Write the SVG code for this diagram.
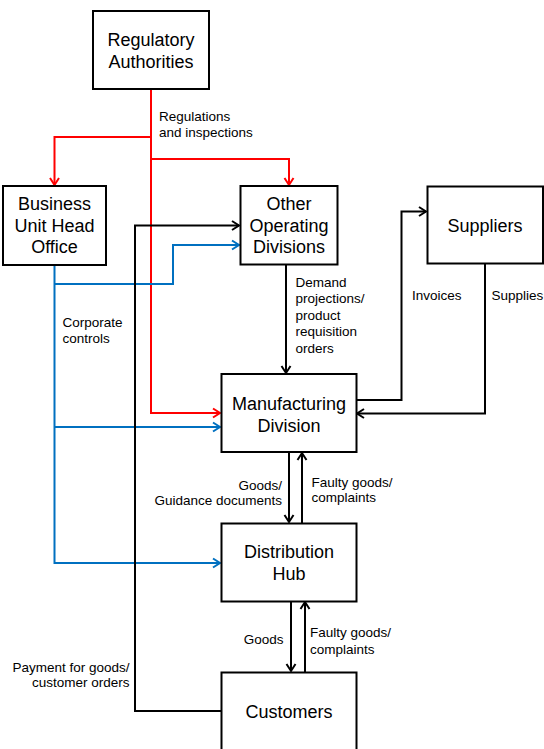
<svg xmlns="http://www.w3.org/2000/svg" width="544" height="749" viewBox="0 0 544 749">
<style>
.box{fill:#fff;stroke:#000;stroke-width:2}
.t{font-family:"Liberation Sans",Arial,sans-serif;font-size:18px;fill:#000;text-anchor:middle}
.l{font-family:"Liberation Sans",Arial,sans-serif;font-size:13.5px;fill:#000}
.r{text-anchor:end}
.c{fill:none;stroke-width:2}
.red{stroke:#FF0000}
.blue{stroke:#0070C0}
.blk{stroke:#000}
</style>
<defs>
<marker id="ar" markerUnits="userSpaceOnUse" markerWidth="12" markerHeight="12" refX="9" refY="6" orient="auto"><path d="M2,1.5 L9,6 L2,10.5" fill="none" stroke="#FF0000" stroke-width="2"/></marker>
<marker id="ab" markerUnits="userSpaceOnUse" markerWidth="12" markerHeight="12" refX="9" refY="6" orient="auto"><path d="M2,1.5 L9,6 L2,10.5" fill="none" stroke="#0070C0" stroke-width="2"/></marker>
<marker id="ak" markerUnits="userSpaceOnUse" markerWidth="12" markerHeight="12" refX="9" refY="6" orient="auto"><path d="M2,1.5 L9,6 L2,10.5" fill="none" stroke="#000" stroke-width="2"/></marker>
</defs>
<rect width="544" height="749" fill="#fff"/>
<g id="connectors">
<path class="c red" d="M151,89 V137 H54.5 V185" marker-end="url(#ar)"/>
<path class="c red" d="M151,159 H289 V185" marker-end="url(#ar)"/>
<path class="c red" d="M151,89 V413 H220" marker-end="url(#ar)"/>
<path class="c blue" d="M54.5,265 V563 H220" marker-end="url(#ab)"/>
<path class="c blue" d="M54.5,284 H173 V245 H239" marker-end="url(#ab)"/>
<path class="c blue" d="M54.5,427 H220" marker-end="url(#ab)"/>
<path class="c blk" d="M221,711 H135 V225.5 H239" marker-end="url(#ak)"/>
<path class="c blk" d="M286,265 V373" marker-end="url(#ak)"/>
<path class="c blk" d="M356,400 H401.5 V211.5 H426" marker-end="url(#ak)"/>
<path class="c blk" d="M485,264 V413.5 H357" marker-end="url(#ak)"/>
<path class="c blk" d="M289,452 V522" marker-end="url(#ak)"/>
<path class="c blk" d="M302,523 V453" marker-end="url(#ak)"/>
<path class="c blk" d="M291,601 V671" marker-end="url(#ak)"/>
<path class="c blk" d="M305,672 V602" marker-end="url(#ak)"/>
</g>
<g id="labels">
<text class="l" x="159" y="121">Regulations</text>
<text class="l" x="159" y="137">and inspections</text>
<text class="l" x="62.5" y="327">Corporate</text>
<text class="l" x="62.5" y="343">controls</text>
<text class="l" x="295.5" y="287">Demand</text>
<text class="l" x="295.5" y="303">projections/</text>
<text class="l" x="295.5" y="320">product</text>
<text class="l" x="295.5" y="336">requisition</text>
<text class="l" x="295.5" y="353">orders</text>
<text class="l" x="412" y="300">Invoices</text>
<text class="l" x="491.5" y="300">Supplies</text>
<text class="l r" x="282" y="490">Goods/</text>
<text class="l r" x="282" y="505">Guidance documents</text>
<text class="l" x="311.5" y="487">Faulty goods/</text>
<text class="l" x="311.5" y="502">complaints</text>
<text class="l r" x="283.5" y="644">Goods</text>
<text class="l" x="310" y="637">Faulty goods/</text>
<text class="l" x="310" y="654">complaints</text>
<text class="l r" x="129.5" y="672">Payment for goods/</text>
<text class="l r" x="129.5" y="687">customer orders</text>
</g>
<g id="regulatory">
<rect class="box" x="93" y="11" width="116" height="78"/>
<text class="t" x="151" y="46">Regulatory</text>
<text class="t" x="151" y="68">Authorities</text>
</g>
<g id="buho">
<rect class="box" x="3" y="186" width="103" height="79"/>
<text class="t" x="54.5" y="210">Business</text>
<text class="t" x="54.5" y="232">Unit Head</text>
<text class="t" x="54.5" y="253">Office</text>
</g>
<g id="other">
<rect class="box" x="240.5" y="186" width="97" height="78.5"/>
<text class="t" x="289" y="210">Other</text>
<text class="t" x="289" y="232">Operating</text>
<text class="t" x="289" y="253">Divisions</text>
</g>
<g id="suppliers">
<rect class="box" x="427.5" y="186.5" width="115.5" height="77"/>
<text class="t" x="485" y="232">Suppliers</text>
</g>
<g id="manufacturing">
<rect class="box" x="221.5" y="374" width="135" height="78"/>
<text class="t" x="289" y="410">Manufacturing</text>
<text class="t" x="289" y="432">Division</text>
</g>
<g id="distribution">
<rect class="box" x="221.5" y="523.5" width="135" height="78"/>
<text class="t" x="289" y="558">Distribution</text>
<text class="t" x="289" y="580">Hub</text>
</g>
<g id="customers">
<rect class="box" x="221.5" y="672.5" width="135" height="90"/>
<text class="t" x="289" y="718">Customers</text>
</g>
</svg>
